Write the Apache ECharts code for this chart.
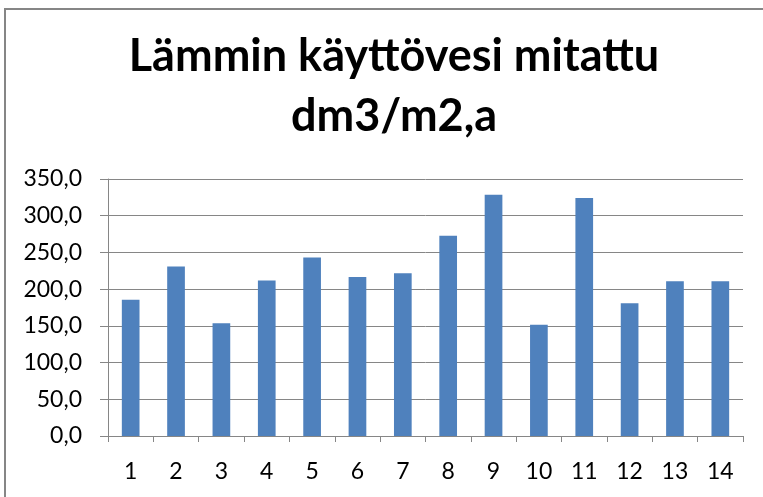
<!DOCTYPE html>
<html>
<head>
<meta charset="utf-8">
<script src="https://cdn.jsdelivr.net/npm/echarts@6/dist/echarts.min.js"></script>
<style>
  html, body { margin: 0; padding: 0; background: #fff; }
  #chart { width: 763px; height: 497px; }
</style>
</head>
<body>
<div id="chart"></div>
<script>
// kohteet 1..14
var categories = ['1', '2', '3', '4', '5', '6', '7', '8', '9', '10', '11', '12', '13', '14'];
// lämmin käyttövesi, dm3/m2,a
var values = [185.5, 230.9, 153.6, 211.8, 243.2, 216.4, 221.8, 272.7, 328.6, 151.4, 324.1, 180.9, 210.9, 210.9];
var yTicks = [0, 50, 100, 150, 200, 250, 300, 350];

var chart = echarts.init(document.getElementById('chart'));

var option = {
  backgroundColor: '#ffffff',
  animation: false,
  title: {
    text: 'Lämmin käyttövesi mitattu\ndm3/m2,a',
    left: 389,
    top: 21,
    textAlign: 'center',
    textStyle: {
      fontFamily: 'Lato',
      fontWeight: 'bold',
      fontSize: 45,
      lineHeight: 60,
      color: '#000'
    }
  },
  graphic: [{
    type: 'rect',
    shape: { x: 5, y: 9, width: 800, height: 600 },
    style: { fill: 'none', stroke: '#868686', lineWidth: 2 },
    silent: true
  }],
  grid: { left: 108, right: 20, top: 179, bottom: 61 },
  xAxis: {
    type: 'category',
    data: categories,
    axisLine: { lineStyle: { color: '#868686', width: 1 } },
    axisTick: { show: true, length: 6, lineStyle: { color: '#868686' } },
    axisLabel: { color: '#000', fontFamily: 'Lato', fontSize: 23, margin: 24 }
  },
  yAxis: {
    type: 'value',
    min: yTicks[0],
    max: yTicks[yTicks.length - 1],
    interval: 50,
    axisLine: { show: true, lineStyle: { color: '#868686', width: 1 } },
    axisTick: { show: true, length: 8, lineStyle: { color: '#868686' } },
    splitLine: { lineStyle: { color: '#868686', width: 1 } },
    axisLabel: {
      color: '#000', fontFamily: 'Lato', fontSize: 23, margin: 26,
      formatter: function (v) { return v.toFixed(1).replace('.', ','); }
    }
  },
  series: [{
    type: 'bar',
    data: values,
    barWidth: '39%',
    itemStyle: { color: '#4f81bd' }
  }]
};

chart.setOption(option);
</script>
</body>
</html>
